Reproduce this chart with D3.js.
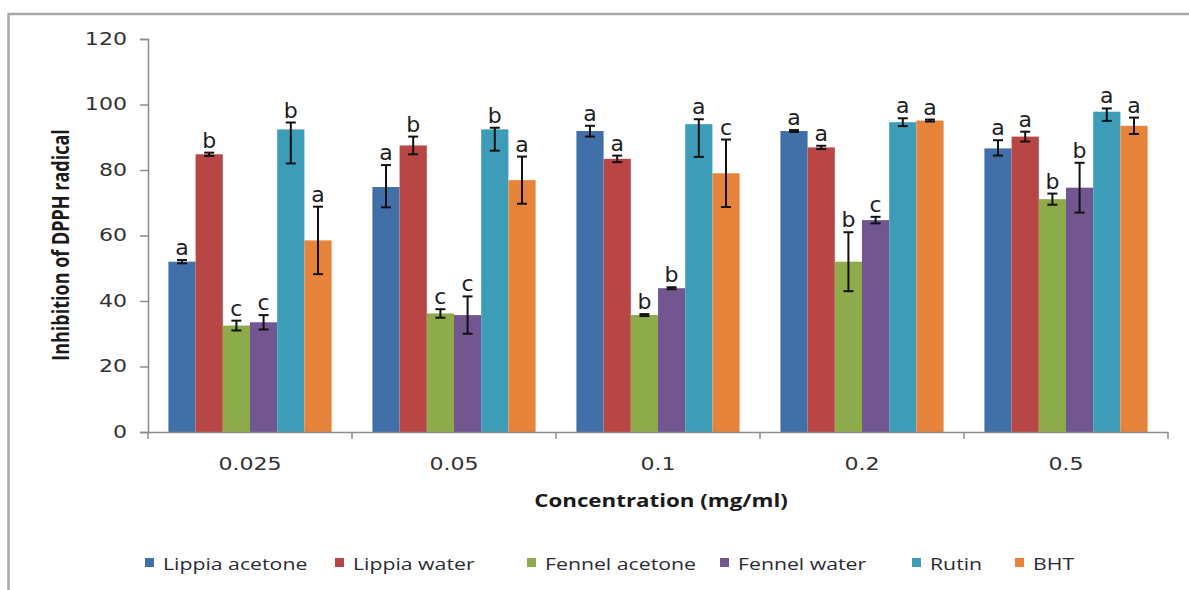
<!DOCTYPE html>
<html>
<head>
<meta charset="utf-8">
<script src="https://cdn.jsdelivr.net/npm/d3@7"></script>
<style>
  html, body { margin: 0; padding: 0; background: #fff; }
  svg { display: block; }
</style>
</head>
<body>
<script>
// Concentrations on the x axis
const concentrations = ["0.025", "0.05", "0.1", "0.2", "0.5"];
const seriesNames = ["Lippia acetone", "Lippia water", "Fennel acetone", "Fennel water", "Rutin", "BHT"];
const seriesColors = ["#4170a8", "#b84644", "#8dab4b", "#71568f", "#3d9db8", "#e5843a"];

// Mean inhibition (%) per series, one value per concentration
const lippiaAcetone = [52.0, 74.8, 91.9, 91.9, 86.6];
const lippiaWater   = [84.8, 87.5, 83.4, 86.9, 90.2];
const fennelAcetone = [32.5, 36.2, 35.7, 52.0, 71.1];
const fennelWater   = [33.5, 35.7, 43.9, 64.7, 74.6];
const rutin         = [92.4, 92.4, 94.0, 94.6, 97.8];
const bht           = [58.5, 76.9, 79.0, 95.1, 93.5];

// Error bar extents (upper / lower)
const errPlus = [
  [0.5, 6.7, 1.6, 0.3, 2.5],
  [0.5, 2.7, 1.0, 0.5, 1.5],
  [1.5, 1.3, 0.3, 9.0, 1.7],
  [2.2, 5.7, 0.3, 1.0, 7.6],
  [2.1, 0.5, 1.5, 1.2, 1.0],
  [10.3, 7.2, 10.3, 0.3, 2.5]
];
const errMinus = [
  [0.5, 6.2, 1.7, 0.3, 2.2],
  [0.5, 2.7, 1.0, 0.5, 1.5],
  [1.5, 1.3, 0.3, 9.0, 1.7],
  [2.2, 5.7, 0.3, 1.0, 7.6],
  [10.4, 6.5, 10.0, 1.2, 2.8],
  [10.3, 7.2, 10.3, 0.3, 2.5]
];

// Significance letters
const letters = [
  ["a", "a", "a", "a", "a"],
  ["b", "b", "a", "a", "a"],
  ["c", "c", "b", "b", "b"],
  ["c", "c", "b", "c", "b"],
  ["b", "b", "a", "a", "a"],
  ["a", "a", "c", "a", "a"]
];

const yTicks = [0, 20, 40, 60, 80, 100, 120];

const seriesValues = [lippiaAcetone, lippiaWater, fennelAcetone, fennelWater, rutin, bht];

const W = 1189, H = 590;
const plot = { left: 148, right: 1168, top: 39, bottom: 432 };
const STRETCH = 1.3;

const svg = d3.select("body").append("svg").attr("width", W).attr("height", H);
svg.append("rect").attr("width", W).attr("height", H).attr("fill", "#fff");

// Outer chart frame
svg.append("rect")
  .attr("x", 8.5).attr("y", 14)
  .attr("width", W + 20).attr("height", H + 20)
  .attr("fill", "none").attr("stroke", "#a9a9a9").attr("stroke-width", 2.5);

const x0 = d3.scaleBand().domain(concentrations).range([plot.left, plot.right]).paddingInner(0).paddingOuter(0);
const x1 = d3.scaleBand().domain(d3.range(seriesNames.length)).range([0, x0.bandwidth()]).paddingInner(0).paddingOuter(0.75);
const y = d3.scaleLinear().domain([0, 120]).range([plot.bottom, plot.top]);

// Bars
const groups = svg.append("g").selectAll("g")
  .data(concentrations)
  .join("g")
  .attr("transform", d => `translate(${x0(d)},0)`);

const cells = groups.selectAll("g.cell")
  .data((c, ci) => seriesNames.map((s, si) => ({
    si, ci,
    v: seriesValues[si][ci],
    ep: errPlus[si][ci],
    em: errMinus[si][ci],
    lab: letters[si][ci]
  })))
  .join("g").attr("class", "cell");

cells.append("rect")
  .attr("x", d => x1(d.si))
  .attr("y", d => y(d.v))
  .attr("width", x1.bandwidth())
  .attr("height", d => y(0) - y(d.v))
  .attr("fill", d => seriesColors[d.si]);

// Error bars
const capHalf = 5;
const eb = cells.append("g").attr("stroke", "#111").attr("stroke-width", 2);
eb.append("line")
  .attr("x1", d => x1(d.si) + x1.bandwidth() / 2)
  .attr("x2", d => x1(d.si) + x1.bandwidth() / 2)
  .attr("y1", d => y(d.v + d.ep))
  .attr("y2", d => y(d.v - d.em));
eb.append("line")
  .attr("x1", d => x1(d.si) + x1.bandwidth() / 2 - capHalf)
  .attr("x2", d => x1(d.si) + x1.bandwidth() / 2 + capHalf)
  .attr("y1", d => y(d.v + d.ep)).attr("y2", d => y(d.v + d.ep));
eb.append("line")
  .attr("x1", d => x1(d.si) + x1.bandwidth() / 2 - capHalf)
  .attr("x2", d => x1(d.si) + x1.bandwidth() / 2 + capHalf)
  .attr("y1", d => y(d.v - d.em)).attr("y2", d => y(d.v - d.em));

// Letter labels
cells.append("text")
  .attr("x", d => x1(d.si) + x1.bandwidth() / 2)
  .attr("y", d => y(d.v + d.ep) - 5)
  .attr("text-anchor", "middle")
  .attr("font-family", "DejaVu Sans, sans-serif")
  .attr("font-size", 22)
  .attr("fill", "#1e1e1e")
  .text(d => d.lab);

// Y axis
const yAxis = svg.append("g")
  .attr("transform", `translate(${plot.left},0)`)
  .call(d3.axisLeft(y).tickValues(yTicks).tickSize(8).tickPadding(13));
yAxis.select(".domain").attr("stroke", "#8c8c8c").attr("stroke-width", 1.5);
yAxis.selectAll(".tick line").attr("stroke", "#8c8c8c").attr("stroke-width", 1.5);
yAxis.selectAll(".tick text")
  .attr("font-family", "DejaVu Sans, sans-serif")
  .attr("font-size", 17)
  .attr("fill", "#333")
  .attr("transform", `scale(${STRETCH},1)`)
  .attr("x", -21 / STRETCH);

// X axis
const xAxis = svg.append("g")
  .attr("transform", `translate(0,${plot.bottom})`)
  .call(d3.axisBottom(x0).tickSize(0).tickPadding(26));
xAxis.select(".domain").attr("stroke", "#8c8c8c").attr("stroke-width", 1.5);
xAxis.selectAll(".tick text")
  .attr("font-family", "DejaVu Sans, sans-serif")
  .attr("font-size", 17)
  .attr("fill", "#333")
  .attr("transform", `scale(${STRETCH},1)`);
// Category separator tick marks
xAxis.append("g").selectAll("line")
  .data(concentrations.concat([null]))
  .join("line")
  .attr("x1", d => d === null ? plot.right : x0(d))
  .attr("x2", d => d === null ? plot.right : x0(d))
  .attr("y1", 0).attr("y2", 7)
  .attr("stroke", "#8c8c8c").attr("stroke-width", 1.5);

// Axis titles
svg.append("text")
  .attr("transform", `translate(${(plot.left + plot.right) / 2 + 3},507) scale(1.24,1)`)
  .attr("text-anchor", "middle")
  .attr("font-family", "Open Sans, sans-serif")
  .attr("font-weight", "bold")
  .attr("font-size", 18)
  .attr("fill", "#1a1a1a")
  .text("Concentration (mg/ml)");

svg.append("text")
  .attr("transform", "translate(69,245) rotate(-90) scale(1,1.25)")
  .attr("text-anchor", "middle")
  .attr("font-family", "Open Sans, sans-serif")
  .attr("font-weight", "bold")
  .attr("font-size", 18)
  .attr("fill", "#1a1a1a")
  .text("Inhibition of DPPH radical");

// Legend
const legendX = [145, 335, 527, 720, 912, 1015];
const legend = svg.append("g").selectAll("g")
  .data(seriesNames)
  .join("g")
  .attr("transform", (d, i) => `translate(${legendX[i]},563)`);
legend.append("rect")
  .attr("x", 0).attr("y", -5).attr("width", 9).attr("height", 9)
  .attr("fill", (d, i) => seriesColors[i]);
legend.append("text")
  .attr("transform", "translate(18,6.5) scale(1.25,1)")
  .attr("font-family", "Open Sans, sans-serif")
  .attr("font-size", 17)
  .attr("fill", "#2b2b33")
  .text(d => d);
</script>
</body>
</html>
